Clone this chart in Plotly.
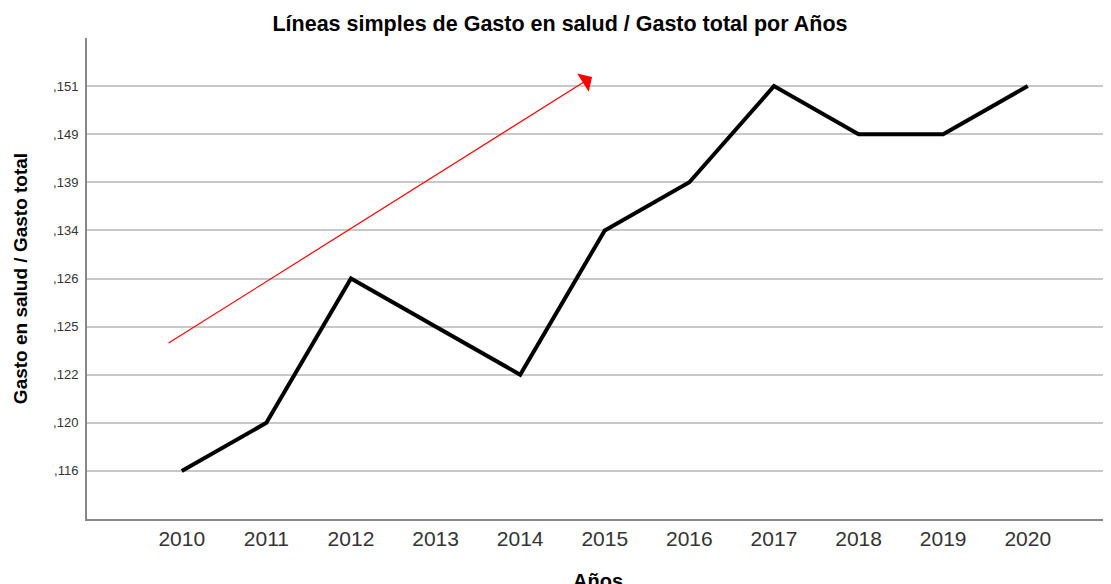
import plotly.graph_objects as go

years = ["2010", "2011", "2012", "2013", "2014", "2015", "2016", "2017", "2018", "2019", "2020"]
ratio = [0.116, 0.120, 0.126, 0.125, 0.122, 0.134, 0.139, 0.151, 0.149, 0.149, 0.151]
y_categories = [0.116, 0.120, 0.122, 0.125, 0.126, 0.134, 0.139, 0.149, 0.151]

def fmt(v):
    return "," + f"{v:.3f}".split(".")[1]

y_labels = [fmt(v) for v in y_categories]
y_vals = [fmt(v) for v in ratio]

FONT = "Liberation Sans, Arial, sans-serif"

fig = go.Figure()
fig.add_trace(go.Scatter(
    x=years, y=y_vals, mode="lines",
    line=dict(color="black", width=4),
    hoverinfo="skip", showlegend=False,
))

fig.update_layout(
    width=1111, height=584,
    margin=dict(l=79, r=10, t=30, b=73, autoexpand=False),
    paper_bgcolor="white", plot_bgcolor="white",
    title=dict(
        text="<b>Líneas simples de Gasto en salud / Gasto total por Años</b>",
        x=552 / 1111, xref="container", xanchor="center",
        y=1 - 15 / 584, yref="container", yanchor="middle",
        font=dict(family=FONT, size=21.5, color="black"),
    ),
    xaxis=dict(
        type="category", categoryorder="array", categoryarray=years,
        range=[-1.12, 10.96], automargin=False,
        showgrid=False, showline=True, linecolor="#888888", linewidth=2,
        ticks="", tickfont=dict(family=FONT, size=21, color="#333333"),
        title=dict(text="<b>Años</b>", font=dict(family=FONT, size=20, color="black"), standoff=30),
        zeroline=False, fixedrange=True,
    ),
    yaxis=dict(
        type="category", categoryorder="array", categoryarray=y_labels,
        range=[-1, 9], automargin=False,
        showgrid=True, gridcolor="#c8c8c8", gridwidth=2,
        showline=True, linecolor="#888888", linewidth=2,
        ticks="", tickfont=dict(family=FONT, size=13, color="#333333"),
        ticklabelstandoff=4,
        title=dict(text="<b>Gasto en salud / Gasto total</b>", font=dict(family=FONT, size=19, color="black"), standoff=20),
        zeroline=False, fixedrange=True,
    ),
)

fig.add_annotation(
    x=4.85, y=8.19, xref="x", yref="y",
    ax=-425, ay=267, axref="pixel", ayref="pixel",
    showarrow=True, arrowhead=1, arrowsize=3, arrowwidth=1.2,
    arrowcolor="red", text="",
)

fig.write_html("out.html")
